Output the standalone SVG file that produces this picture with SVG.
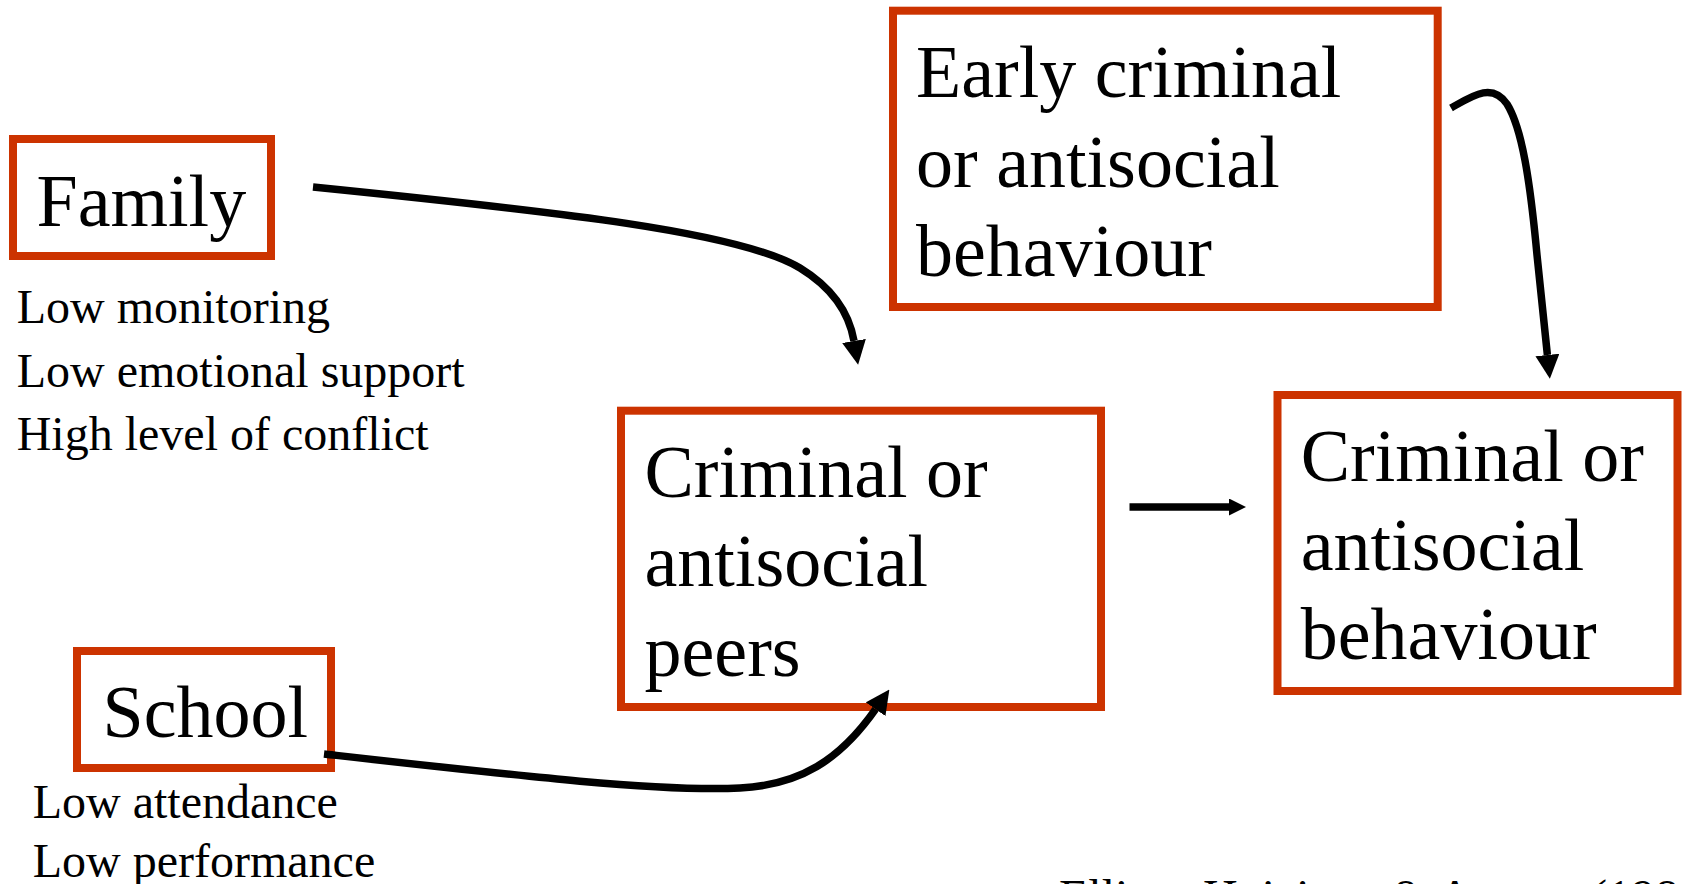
<svg xmlns="http://www.w3.org/2000/svg" width="1683" height="884" viewBox="0 0 1683 884">
<style>
.box{fill:#ffffff;stroke:#CC3300;stroke-width:8}
.lbl{font-family:"Liberation Serif","Times New Roman",serif;font-size:74px;fill:#000}
.sub{font-family:"Liberation Serif","Times New Roman",serif;font-size:48px;fill:#000}
.conn{fill:none;stroke:#000;stroke-width:7.5}
</style>
<defs>
<marker id="head" markerUnits="userSpaceOnUse" markerWidth="24" markerHeight="24" refX="0" refY="11.5" orient="auto" viewBox="0 0 23 23">
<path d="M0,0 L23,11.5 L0,23 Z" fill="#000"/>
</marker>
<marker id="headS" markerUnits="userSpaceOnUse" markerWidth="17" markerHeight="17" refX="0" refY="8" orient="auto" viewBox="0 0 16 16">
<path d="M0,0 L16,8 L0,16 Z" fill="#000"/>
</marker>
</defs>
<rect width="1683" height="884" fill="#ffffff"/>
<g id="family">
<rect class="box" x="13" y="139" width="258" height="117"/>
<text class="lbl" x="36.5" y="226">Family</text>
<text class="sub" x="16.7" y="322.7">Low monitoring</text>
<text class="sub" x="16.7" y="386.7">Low emotional support</text>
<text class="sub" x="16.7" y="450">High level of conflict</text>
</g>
<g id="school">
<rect class="box" x="77" y="651" width="254" height="117"/>
<text class="lbl" x="102.5" y="737.3">School</text>
<text class="sub" x="32.7" y="818.3">Low attendance</text>
<text class="sub" x="32.7" y="876.7">Low performance</text>
</g>
<g id="early">
<rect class="box" x="893" y="10.7" width="544.7" height="296.3"/>
<text class="lbl" x="916" y="97.3">Early criminal</text>
<text class="lbl" x="916" y="186.7">or antisocial</text>
<text class="lbl" x="916" y="276">behaviour</text>
</g>
<g id="peers">
<rect class="box" x="621" y="410.7" width="480" height="296.3"/>
<text class="lbl" x="644.5" y="496.7">Criminal or</text>
<text class="lbl" x="644.5" y="586">antisocial</text>
<text class="lbl" x="644.5" y="676">peers</text>
</g>
<g id="outcome">
<rect class="box" x="1277.5" y="395" width="400" height="296"/>
<text class="lbl" x="1300.7" y="480.7">Criminal or</text>
<text class="lbl" x="1300.7" y="570">antisocial</text>
<text class="lbl" x="1300.7" y="659.3">behaviour</text>
</g>
<g id="citation">
<text class="sub" x="1059" y="913">Elliott, Huizinga &amp; Ageton (198</text>
</g>
<g id="connectors">
<path class="conn" d="M313,187 C560,212 740,232 800,268 C836,290 850,318 854,341" marker-end="url(#head)"/>
<path class="conn" d="M324,754 C520,776 660,792 740,788 C800,785 840,760 875.6,709.2" marker-end="url(#head)"/>
<path class="conn" d="M1451,108 C1472,96 1492,82 1507,104 C1522,128 1530,180 1537,255 L1547.4,355" marker-end="url(#head)"/>
<path class="conn" d="M1129.5,507 L1229,507" marker-end="url(#headS)"/>
</g>
</svg>
